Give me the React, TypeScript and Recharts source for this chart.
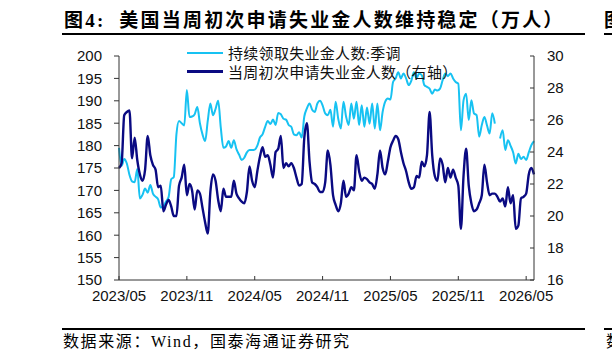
import React from 'react';
import { ComposedChart, Line, XAxis, YAxis } from 'recharts';

// 持续领取失业金人数:季调（万人，左轴），weekly
const continuing: (number | null)[] = [
  179.5, 175.5, 177, 176, 173.5, 172, 171.8, 174.8, 168.2, 169,
  170.4, 169.5, 171.2, 169.3, 168.6, 168, 166.2, 166.5, 167.5, 168.5,
  172.5, 173, 182.5, 185.5, 185, 184.5, 192.4, 186.4, 186.5, 187,
  188.6, 185, 182.5, 181, 185.5, 189.4, 186.8, 188.2, 190, 184,
  179.5, 179.8, 181, 179.5, 181.2, 179.2, 178, 176.8, 177.3, 178.5,
  179, 179, 179.1, 180, 181.8, 182.5, 184.2, 185.5, 184.8, 185.8,
  184.6, 187.3, 187, 186, 185.8, 184.6, 184.2, 182.5, 182.3, 183,
  181.8, 186.5, 188.3, 189.4, 188, 187.5, 189.4, 190, 189, 187.2,
  186.8, 188, 184.2, 189.8, 186, 183.8, 189.8, 186.5, 184.6, 189.4,
  186, 189.8, 184.6, 189, 184.2, 188.5, 184.9, 189.4, 183.8, 189.4,
  183.4, 187.5, 189.8, 190.5, 190.3, 194.2, 195, 196.4, 195, 196.1,
  195, 193.5, 194.5, 196.4, 195, 196.1, 195.7, 193.5, 193.1, 192.7,
  191.6, 192.5, 192.3, 192.7, 194.6, 196.1, 195.5, 196.1, 195, 194.2,
  193.8, 183.4, 190.1, 191.6, 185.7, 190.1, 187.2, 186.8, 182, 184.6,
  186.4, 184.5, 182.7, 187.2, 184.9, null, 181.6, 183.4, 179, 181.2,
  180, 178.5, 176, 178.2, 177, 177.5, 176.8, 178.5, 180.1, 181,
];

// 当周初次申请失业金人数（万人，右轴），weekly
const initial: number[] = [
  23.0, 23.3, 26.3, 26.5, 26.6, 23.6, 24.9, 23.5, 22.6, 22.2,
  22.9, 25.0, 23.8, 23.2, 22.9, 21.8, 21.9, 20.3, 20.7, 21.0,
  20.6, 20.0, 20.0, 21.9, 22.4, 23.2, 21.3, 22.0, 21.6, 20.4,
  21.6, 21.4, 20.5, 19.6, 18.9, 21.5, 22.6, 22.2, 21.0, 20.3,
  21.7, 21.2, 21.2, 21.2, 22.2, 21.4, 21.1, 20.9, 20.8, 21.5,
  23.1, 22.2, 21.8, 22.8, 23.7, 24.3, 23.7, 23.8, 23.2, 22.4,
  24.0, 24.2, 25.0, 23.0, 23.3, 23.1, 23.3, 23.0, 22.4, 21.9,
  22.0, 24.9, 25.8, 23.4, 22.1, 22.0, 21.8, 21.5, 21.5, 22.1,
  24.1, 23.2, 21.3, 20.7, 20.3, 20.8, 22.2, 21.2, 21.4, 21.8,
  21.6, 23.8, 22.8, 22.2, 22.4, 22.3, 22.1, 22.0, 21.7, 22.6,
  24.1, 23.0, 22.6, 23.4, 24.3, 24.7, 25.0, 24.8, 24.0, 23.3,
  22.8, 22.1, 21.7, 21.8, 22.5, 22.4, 23.4, 23.1, 23.8, 26.5,
  23.8, 22.5, 22.2, 23.6, 23.2, 22.1, 23.0, 22.4, 22.9, 22.4,
  21.9, 19.2, 22.5, 24.2, 21.9, 20.8, 20.3, 20.4, 20.8, 21.3,
  23.2, 22.1, 21.3, 21.4, 21.4, 21.2, 20.9, 21.1, 20.6, 21.8,
  20.8, 21.3, 19.2, 19.4, 21.1, 21.2, 21.4, 22.6, 23.0, 22.6,
];

const tickWeeks = [0, 26, 52, 78, 104, 130, 156];
const tickLabels = ['2023/05', '2023/11', '2024/05', '2024/11', '2025/05', '2025/11', '2026/05'];
const leftTicks = [150, 155, 160, 165, 170, 175, 180, 185, 190, 195, 200];
const rightTicks = [16, 18, 20, 22, 24, 26, 28, 30];

const LIGHT = '#17C2F2';
const DARK = '#0A0A82';
const AXIS = '#333333';
const SANS = '"Liberation Sans", Arial, sans-serif';
const SERIF = '"Liberation Serif", "Times New Roman", "Noto Sans CJK SC", serif';

const series = [
  { key: 'continuing', name: '持续领取失业金人数:季调', color: LIGHT, axis: 'left', width: 2 },
  { key: 'initial', name: '当周初次申请失业金人数（右轴）', color: DARK, axis: 'right', width: 2.4 },
];

const data = continuing.map((v, i) => ({ i, continuing: v, initial: initial[i] }));

const RightTick = (props: any) => {
  const { x, y, payload } = props;
  return (
    <g>
      <line x1={x - 4} x2={x} y1={y} y2={y} stroke={AXIS} strokeWidth={1} />
      <text x={x + 13} y={y} dy="0.36em" fontSize={15} fill="#111" fontFamily={SANS}>
        {payload.value}
      </text>
    </g>
  );
};

const BottomTick = (props: any) => {
  const { x, y, payload } = props;
  const idx = tickWeeks.indexOf(payload.value);
  return (
    <g>
      <line x1={x} x2={x} y1={y - 4} y2={y} stroke={AXIS} strokeWidth={1} />
      <text x={x} y={y + 21} textAnchor="middle" fontSize={15} fill="#111" fontFamily={SANS}>
        {idx >= 0 ? tickLabels[idx] : ''}
      </text>
    </g>
  );
};

export default function App() {
  return (
    <div style={{ position: 'absolute', left: 0, top: 0, width: 612, height: 356, background: '#fff', overflow: 'hidden' }}>
      <div
        style={{
          position: 'absolute', left: 64, top: 8, lineHeight: '26px', fontSize: 19,
          fontFamily: SERIF, color: '#000', whiteSpace: 'nowrap', letterSpacing: 2.2, fontWeight: 'bold',
        }}
      >
        图4:&nbsp;&nbsp;美国当周初次申请失业金人数维持稳定（万人）
      </div>
      <div style={{ position: 'absolute', left: 62, top: 33, width: 523, height: 2, background: '#000' }} />
      <div style={{ position: 'absolute', left: 604, top: 8, lineHeight: '26px', fontSize: 19, fontFamily: SERIF, fontWeight: 'bold' }}>图</div>
      <div style={{ position: 'absolute', left: 604, top: 33, width: 8, height: 2, background: '#000' }} />

      <ComposedChart
        width={612}
        height={356}
        data={data}
        margin={{ top: 56, right: 38, bottom: 46, left: 0 }}
      >
        <XAxis
          dataKey="i"
          type="number"
          domain={[0, 159]}
          ticks={tickWeeks}
          interval={0}
          height={30}
          tickSize={0}
          tickMargin={0}
          tick={<BottomTick />}
          axisLine={{ stroke: AXIS, strokeWidth: 1 }}
        />
        <YAxis
          yAxisId="left"
          orientation="left"
          domain={[150, 200]}
          ticks={leftTicks}
          interval={0}
          width={119}
          tickSize={5}
          tickMargin={12}
          tick={{ fontSize: 15, fill: '#111', fontFamily: SANS }}
          tickLine={{ stroke: AXIS }}
          axisLine={{ stroke: AXIS, strokeWidth: 1 }}
        />
        <YAxis
          yAxisId="right"
          orientation="right"
          domain={[16, 30]}
          ticks={rightTicks}
          interval={0}
          width={40}
          tickSize={0}
          tickMargin={0}
          tick={<RightTick />}
          axisLine={{ stroke: AXIS, strokeWidth: 1 }}
        />
        {series.map((s) => (
          <Line
            key={s.key}
            yAxisId={s.axis}
            dataKey={s.key}
            type="monotone"
            stroke={s.color}
            strokeWidth={s.width}
            dot={false}
            activeDot={false}
            connectNulls={false}
            isAnimationActive={false}
          />
        ))}
      </ComposedChart>

      {series.map((s, k) => (
        <div key={s.key} style={{ position: 'absolute', left: 187, top: 43 + k * 19, height: 19, display: 'flex', alignItems: 'center' }}>
          <div style={{ width: 36, height: s.width, background: s.color, marginRight: 5 }} />
          <span style={{ fontSize: 15, fontFamily: SERIF, color: '#111', whiteSpace: 'nowrap', letterSpacing: 0.3 }}>{s.name}</span>
        </div>
      ))}

      <div style={{ position: 'absolute', left: 62, top: 328, width: 523, height: 1.5, background: '#000' }} />
      <div style={{ position: 'absolute', left: 604, top: 328, width: 8, height: 1.5, background: '#000' }} />
      <div
        style={{
          position: 'absolute', left: 63, top: 332, lineHeight: '20px', fontSize: 16,
          fontFamily: SERIF, color: '#000', whiteSpace: 'nowrap', letterSpacing: 1.6,
        }}
      >
        数据来源：Wind，国泰海通证券研究
      </div>
      <div style={{ position: 'absolute', left: 606, top: 332, lineHeight: '20px', fontSize: 16, fontFamily: SERIF }}>数</div>
    </div>
  );
}
